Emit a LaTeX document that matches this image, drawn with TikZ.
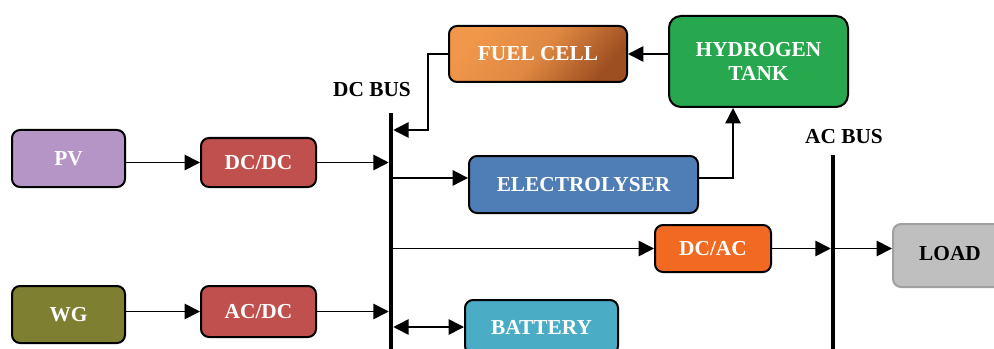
\documentclass[tikz,border=0pt]{standalone}
\usepackage{fontspec}
\setmainfont{Liberation Serif}
\usepackage{tikz}
\usetikzlibrary{arrows.meta, positioning, calc}

\definecolor{pvcol}{HTML}{B594C6}
\definecolor{convcol}{HTML}{C0504D}
\definecolor{wgcol}{HTML}{7F7F32}
\definecolor{fclight}{HTML}{F0974A}
\definecolor{fcdark}{HTML}{9E4F22}
\definecolor{htcol}{HTML}{27A84E}
\definecolor{elcol}{HTML}{4F7DB5}
\definecolor{dcaccol}{HTML}{F26A22}
\definecolor{loadcol}{HTML}{BFBFBF}
\definecolor{loadline}{HTML}{A0A0A0}
\definecolor{batcol}{HTML}{4BACC6}

\begin{document}
\begin{tikzpicture}[
    x=0.75pt, y=-0.75pt,
    box/.style={rectangle, draw, line width=1.5pt, rounded corners=6pt, inner sep=0pt,
        text=white, font=\fontsize{16}{17.5}\selectfont\bfseries, align=center},
    bus/.style={rectangle, fill=black, inner sep=0pt, minimum width=3pt},
    lbl/.style={font=\fontsize{16}{17.5}\selectfont\bfseries},
    arrow/.style={-{Triangle[length=11.5pt, width=11.5pt]}, line width=1.25pt},
    dblarrow/.style={{Triangle[length=11.5pt, width=11.5pt]}-{Triangle[length=11.5pt, width=11.5pt]}, line width=1.25pt}
]
    \useasboundingbox (0,0) rectangle (994,349);

    % Sources
    \node[box, fill=pvcol, minimum width=84.75pt, minimum height=42.75pt] (pv) at (68.5,158.5) {PV};
    \node[box, fill=convcol, minimum width=86.25pt, minimum height=36.75pt] (dcdc) at (258.5,162.5) {DC/DC};
    \node[box, fill=wgcol, minimum width=84.75pt, minimum height=42.75pt] (wg) at (68.5,314.5) {WG};
    \node[box, fill=convcol, minimum width=86.25pt, minimum height=38.25pt] (acdc) at (258.5,311.5) {AC/DC};

    % Buses
    \node[bus, minimum height=185.25pt] (dcbus) at (391,236.5) {};
    \node[lbl] (dclabel) at (372,90) {DC BUS};
    \node[bus, minimum height=153.75pt] (acbus) at (833,257.5) {};
    \node[lbl] (aclabel) at (844,137) {AC BUS};

    % Hydrogen branch
    \node[box, left color=fclight, right color=fcdark, middle color=fclight!80!fcdark, shading angle=50,
        minimum width=133.5pt, minimum height=42pt] (fc) at (538,54) {FUEL CELL};
    \node[box, fill=htcol, rounded corners=9pt, minimum width=134.25pt, minimum height=68.25pt] (ht) at (758.5,61.5) {HYDROGEN\\TANK};
    \node[box, fill=elcol, minimum width=171.75pt, minimum height=42.75pt] (el) at (583.5,184.5) {ELECTROLYSER};

    % Load side
    \node[box, fill=dcaccol, minimum width=87pt, minimum height=35.25pt] (dcac) at (713,248.5) {DC/AC};
    \node[box, fill=loadcol, draw=loadline, text=black, minimum width=85.5pt, minimum height=47.25pt] (load) at (950,255.5) {\raisebox{3pt}{LOAD}};
    \node[box, fill=batcol, minimum width=114.75pt, minimum height=40.5pt] (bat) at (541.5,327) {BATTERY};

    \coordinate (fctap) at (428,130);
    \coordinate (elin) at ([yshift=4.9pt]el.west);
    \coordinate (elout) at ([yshift=4.9pt]el.east);

    \draw[arrow] (pv.east |- dcdc) -- (dcdc);
    \draw[arrow] (dcdc) -- (dcdc -| dcbus.west);
    \draw[arrow] (wg.east |- acdc) -- (acdc);
    \draw[arrow] (acdc) -- (acdc -| dcbus.west);

    \draw[arrow] (fc.west) -| (fctap) -- (fctap -| dcbus.east);
    \draw[arrow] (ht.west |- fc) -- (fc.east);
    \draw[arrow] (dcbus.east |- elin) -- (elin);
    \draw[arrow] (elout) -| ([xshift=-19.1pt]ht.south);

    \draw[arrow] (dcbus.east |- dcac) -- (dcac);
    \draw[arrow] (dcac) -- (dcac -| acbus.west);
    \draw[arrow] (acbus.east |- dcac) -- (dcac -| load.west);
    \draw[dblarrow] (dcbus.east |- bat) -- (bat.west);
\end{tikzpicture}
\end{document}
